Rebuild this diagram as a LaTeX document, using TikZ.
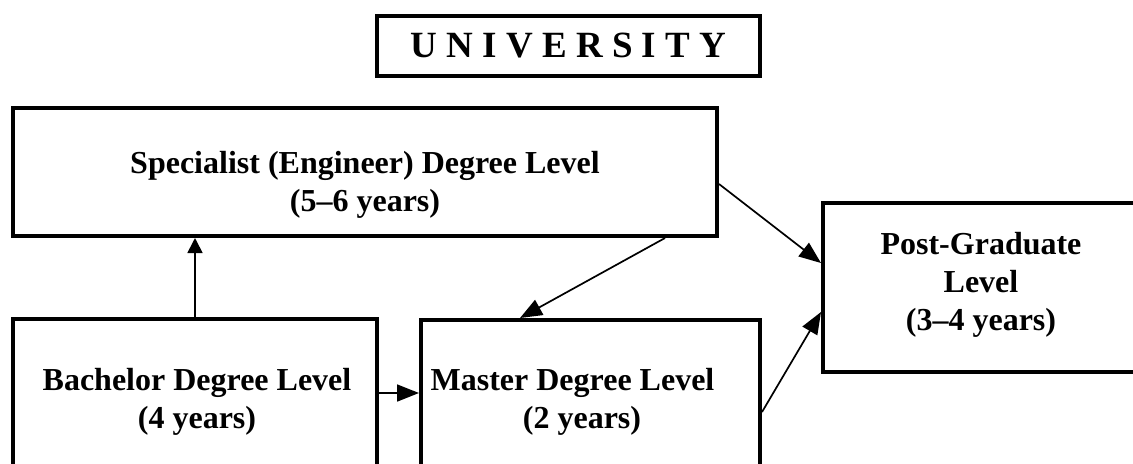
\documentclass[tikz,border=0pt]{standalone}
\usepackage{fontspec}
\setmainfont{Liberation Serif}
\usetikzlibrary{arrows.meta}
\tikzset{
  box/.style={draw, line width=2pt, rectangle, inner sep=0pt},
  lbl/.style={align=center, inner sep=0pt, font=\bfseries\fontsize{16pt}{19pt}\selectfont},
  arr/.style={line width=0.85pt, -{Triangle[length=11pt, width=8.5pt]}},
  arrsmall/.style={line width=0.85pt, -{Triangle[length=7.5pt, width=7.5pt]}}
}
\begin{document}
\begin{tikzpicture}[x=0.5pt, y=-0.5pt]
\clip (0,0) rectangle (1133,463);
% boxes
\node[box, minimum width=191.5pt, minimum height=30pt,
      font=\bfseries\fontsize{18.5pt}{20pt}\selectfont] (univ) at (568.5,46) {U N I V E R S I T Y};
\node[box, minimum width=352pt, minimum height=64pt] (spec) at (365,172) {};
\node[box, minimum width=158pt, minimum height=84.5pt] (post) at (981,287.5) {};
\node[box, minimum width=182pt, minimum height=80.5pt] (bach) at (195,399.5) {};
\node[box, minimum width=169.5pt, minimum height=80pt] (mast) at (590.5,400) {};
% labels
\node[lbl] (spectext) at (365,185) {Specialist (Engineer) Degree Level\\(5--6 years)};
\node[lbl] (posttext) at (981,285) {Post-Graduate\\Level\\(3--4 years)};
\node[lbl] (bachtext) at (197,402) {Bachelor Degree Level\\(4 years)};
\node[lbl] (masttext) at (572.5,402) {Master Degree Level\\\hspace*{9.5pt}(2 years)};
% connectors
\draw[arrsmall] (bach.north) -- (bach.north |- spec.south);
\draw[arr] ([yshift=3.25pt]bach.east) coordinate (ba) -- (ba -| mast.west);
\draw[arr] ([xshift=150pt]spec.south) -- ([xshift=-35.25pt]mast.north);
\draw[arr] ([yshift=-6pt]spec.east) -- ([yshift=12.25pt]post.west);
\draw[arr] ([yshift=-6pt]mast.east) -- ([yshift=-12.25pt]post.west);
\end{tikzpicture}
\end{document}
